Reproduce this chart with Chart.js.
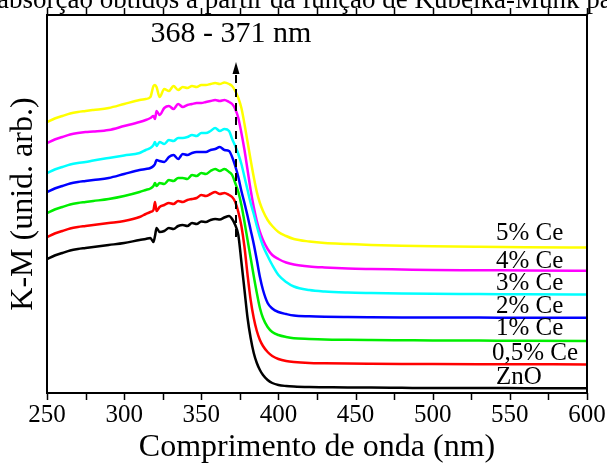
<!DOCTYPE html>
<html>
<head>
<meta charset="utf-8">
<script src="https://cdn.jsdelivr.net/npm/chart.js@4.4.1/dist/chart.umd.min.js"></script>
<style>
    html, body { margin: 0; padding: 0; background: #fff; }
    #wrap { width: 607px; height: 464px; }
</style>
</head>
<body>
<div id="wrap"><canvas id="kmChart" width="607" height="464"></canvas></div>
<script>
// Comprimento de onda (nm)
const wavelength = [250, 255, 260, 265, 270, 275, 280, 290, 300, 310,
    314, 317, 319, 320, 321, 323,
    326, 329, 332, 335, 338, 341, 344, 347, 350, 353, 356, 359, 362, 365, 368,
    370, 372, 374, 376, 378, 380, 382, 384, 386, 388, 390,
    393, 396, 400, 405, 410,
    420, 430, 445, 460, 480, 500, 530, 560, 600];

// K-M (unid. arb.) - curvas deslocadas
const kmZnO = [1.34, 1.375, 1.40, 1.425, 1.44, 1.45, 1.46, 1.48, 1.50, 1.53,
    1.54, 1.55, 1.51, 1.57, 1.65, 1.61,
    1.62, 1.65, 1.64, 1.67, 1.68, 1.67, 1.70, 1.69, 1.715, 1.71, 1.73, 1.74, 1.735, 1.755, 1.77,
    1.74, 1.68, 1.58, 1.31, 1.03, 0.75, 0.55, 0.40, 0.30, 0.23, 0.18,
    0.13, 0.10, 0.08, 0.07, 0.065,
    0.06, 0.058, 0.055, 0.054, 0.052, 0.05, 0.05, 0.048, 0.047];

const kmCe05 = [1.56, 1.595, 1.62, 1.645, 1.66, 1.67, 1.68, 1.70, 1.72, 1.76,
    1.79, 1.81, 1.83, 1.91, 1.82, 1.86,
    1.88, 1.90, 1.89, 1.92, 1.91, 1.93, 1.94, 1.95, 1.98, 1.97, 1.99, 2.01, 1.99, 2.00, 1.98,
    1.96, 1.91, 1.81, 1.67, 1.46, 1.18, 0.93, 0.75, 0.62, 0.53, 0.47,
    0.41, 0.37, 0.34, 0.32, 0.31,
    0.30, 0.297, 0.294, 0.292, 0.29, 0.289, 0.288, 0.287, 0.286];

const kmCe1 = [1.80, 1.835, 1.86, 1.885, 1.90, 1.91, 1.92, 1.94, 1.97, 2.01,
    2.03, 2.045, 2.07, 2.10, 2.07, 2.10,
    2.09, 2.13, 2.12, 2.15, 2.15, 2.14, 2.18, 2.17, 2.20, 2.19, 2.22, 2.24, 2.22, 2.24, 2.21,
    2.18, 2.10, 2.01, 1.88, 1.71, 1.53, 1.35, 1.17, 1.00, 0.85, 0.75,
    0.66, 0.61, 0.58, 0.56, 0.547,
    0.54, 0.535, 0.532, 0.53, 0.528, 0.526, 0.524, 0.522, 0.52];

const kmCe2 = [2.01, 2.045, 2.07, 2.095, 2.11, 2.12, 2.13, 2.15, 2.19, 2.23,
    2.24, 2.25, 2.27, 2.29, 2.33, 2.32,
    2.31, 2.36, 2.38, 2.34, 2.39, 2.38, 2.40, 2.41, 2.41, 2.41, 2.43, 2.44, 2.46, 2.43, 2.42,
    2.36, 2.27, 2.16, 2.02, 1.90, 1.77, 1.63, 1.49, 1.33, 1.16, 1.03,
    0.90, 0.845, 0.81, 0.79, 0.775,
    0.767, 0.763, 0.76, 0.758, 0.756, 0.755, 0.754, 0.753, 0.752];

const kmCe3 = [2.20, 2.235, 2.26, 2.285, 2.30, 2.31, 2.325, 2.35, 2.375, 2.40,
    2.43, 2.45, 2.48, 2.51, 2.47, 2.51,
    2.49, 2.53, 2.52, 2.55, 2.55, 2.56, 2.58, 2.57, 2.60, 2.60, 2.62, 2.65, 2.62, 2.64, 2.62,
    2.54, 2.47, 2.39, 2.29, 2.16, 2.03, 1.90, 1.79, 1.67, 1.56, 1.47,
    1.37, 1.28, 1.18, 1.11, 1.065,
    1.03, 1.015, 1.005, 1.00, 0.995, 0.992, 0.99, 0.987, 0.985];

const kmCe4 = [2.50, 2.535, 2.56, 2.585, 2.60, 2.61, 2.615, 2.63, 2.67, 2.71,
    2.73, 2.75, 2.77, 2.74, 2.82, 2.78,
    2.85, 2.87, 2.84, 2.89, 2.86, 2.88, 2.89, 2.90, 2.90, 2.91, 2.92, 2.93, 2.92, 2.93, 2.91,
    2.89, 2.84, 2.75, 2.60, 2.43, 2.23, 2.03, 1.86, 1.72, 1.61, 1.53,
    1.44, 1.38, 1.34, 1.305, 1.285,
    1.265, 1.255, 1.245, 1.24, 1.235, 1.23, 1.228, 1.225, 1.223];

const kmCe5 = [2.71, 2.745, 2.77, 2.795, 2.81, 2.82, 2.83, 2.85, 2.89, 2.93,
    2.94, 2.96, 3.07, 3.08, 3.06, 2.96,
    3.04, 3.02, 3.07, 3.03, 3.06, 3.05, 3.07, 3.06, 3.08, 3.08, 3.09, 3.10, 3.09, 3.105, 3.09,
    3.07, 3.02, 2.95, 2.85, 2.69, 2.51, 2.33, 2.16, 2.01, 1.90, 1.82,
    1.73, 1.67, 1.61, 1.57, 1.54,
    1.515, 1.50, 1.49, 1.48, 1.472, 1.467, 1.462, 1.458, 1.455];

const seriesNames = ['ZnO', '0,5% Ce', '1% Ce', '2% Ce', '3% Ce', '4% Ce', '5% Ce'];
const seriesValues = [kmZnO, kmCe05, kmCe1, kmCe2, kmCe3, kmCe4, kmCe5];
const seriesColors = ['#000000', '#ff0000', '#00ee00', '#0000ff', '#00ffff', '#ff00ff', '#ffff00'];

// Borda de absorção indicada
const edgeLabel = '368 - 371 nm';
const edgeX = 372.5;

const xTicks = [250, 300, 350, 400, 450, 500, 550, 600];

const FONT = '"Liberation Serif", "Times New Roman", serif';

// Moldura, ticks, seta e rótulos das curvas
const decorPlugin = {
    id: 'decor',
    afterDatasetsDraw(chart) {
        const ctx = chart.ctx;
        const area = chart.chartArea;
        const x = chart.scales.x;
        const y = chart.scales.y;
        ctx.save();

        // seta tracejada
        const ax = x.getPixelForValue(edgeX);
        ctx.strokeStyle = '#000';
        ctx.lineWidth = 2;
        ctx.setLineDash([8, 6]);
        ctx.beginPath();
        ctx.moveTo(ax, y.getPixelForValue(1.56));
        ctx.lineTo(ax, y.getPixelForValue(3.2));
        ctx.stroke();
        ctx.setLineDash([]);
        ctx.fillStyle = '#000';
        ctx.beginPath();
        ctx.moveTo(ax, y.getPixelForValue(3.31));
        ctx.lineTo(ax - 3.5, y.getPixelForValue(3.19));
        ctx.lineTo(ax + 3.5, y.getPixelForValue(3.19));
        ctx.closePath();
        ctx.fill();

        // moldura
        ctx.lineWidth = 2;
        ctx.strokeRect(area.left, area.top, area.right - area.left, area.bottom - area.top);

        // ticks (para fora) a cada 25 nm
        ctx.lineWidth = 1.5;
        for (let v = 250; v <= 600; v += 25) {
            const px = Math.round(x.getPixelForValue(v)) + 0.5;
            ctx.beginPath();
            ctx.moveTo(px, area.bottom);
            ctx.lineTo(px, area.bottom + 7);
            ctx.moveTo(px, area.top);
            ctx.lineTo(px, area.top - 7);
            ctx.stroke();
        }

        // texto
        ctx.fillStyle = '#000';
        ctx.textBaseline = 'middle';
        ctx.textAlign = 'center';
        ctx.font = '30px ' + FONT;
        ctx.fillText(edgeLabel, 231, 34);

        ctx.textAlign = 'left';
        ctx.font = '25px ' + FONT;
        const labelY = [377, 353, 328, 306, 283, 261, 233];
        seriesNames.forEach((name, i) => {
            ctx.fillText(name, i === 1 ? 492 : 496, labelY[i]);
        });

        // legenda do documento cortada no topo
        ctx.textBaseline = 'alphabetic';
        ctx.font = '27px ' + FONT;
        ctx.fillText('absorção obtidos a partir da função de Kubelka-Munk para', -3, 8);
        ctx.restore();
    }
};

function initializeChart() {
    const ctx = document.getElementById('kmChart').getContext('2d');
    new Chart(ctx, {
        type: 'line',
        data: {
            datasets: seriesValues.map((vals, i) => ({
                label: seriesNames[i],
                data: wavelength.map((w, j) => ({ x: w, y: vals[j] })),
                borderColor: seriesColors[i],
                borderWidth: 2.5,
                pointRadius: 0,
                tension: 0,
                cubicInterpolationMode: 'monotone',
                fill: false
            }))
        },
        options: {
            responsive: false,
            animation: false,
            devicePixelRatio: 1,
            layout: { padding: { top: 15, right: 20, left: 0, bottom: 0 } },
            plugins: {
                legend: { display: false },
                tooltip: { enabled: false }
            },
            scales: {
                x: {
                    type: 'linear',
                    min: 250,
                    max: 600,
                    afterBuildTicks(scale) {
                        scale.ticks = xTicks.map(v => ({ value: v }));
                    },
                    grid: {
                        display: true,
                        drawOnChartArea: false,
                        drawTicks: true,
                        tickLength: 6,
                        tickColor: 'rgba(0,0,0,0)'
                    },
                    border: { display: false },
                    ticks: {
                        color: '#000',
                        font: { family: FONT, size: 25 },
                        padding: 1,
                        maxRotation: 0,
                        autoSkip: false
                    },
                    title: {
                        display: true,
                        text: 'Comprimento de onda (nm)',
                        color: '#000',
                        font: { family: FONT, size: 32, lineHeight: 1.05 },
                        padding: { top: 0, bottom: 0 }
                    },
                    afterFit(scale) { scale.height = 71; }
                },
                y: {
                    min: 0,
                    max: 3.78,
                    grid: { display: false },
                    border: { display: false },
                    ticks: { display: false },
                    title: {
                        display: true,
                        text: 'K-M (unid. arb.)',
                        color: '#000',
                        font: { family: FONT, size: 32 },
                        padding: { top: 4, bottom: 0 }
                    },
                    afterFit(scale) { scale.width = 47; }
                }
            }
        },
        plugins: [decorPlugin]
    });
}

document.addEventListener('DOMContentLoaded', initializeChart);
</script>
</body>
</html>
